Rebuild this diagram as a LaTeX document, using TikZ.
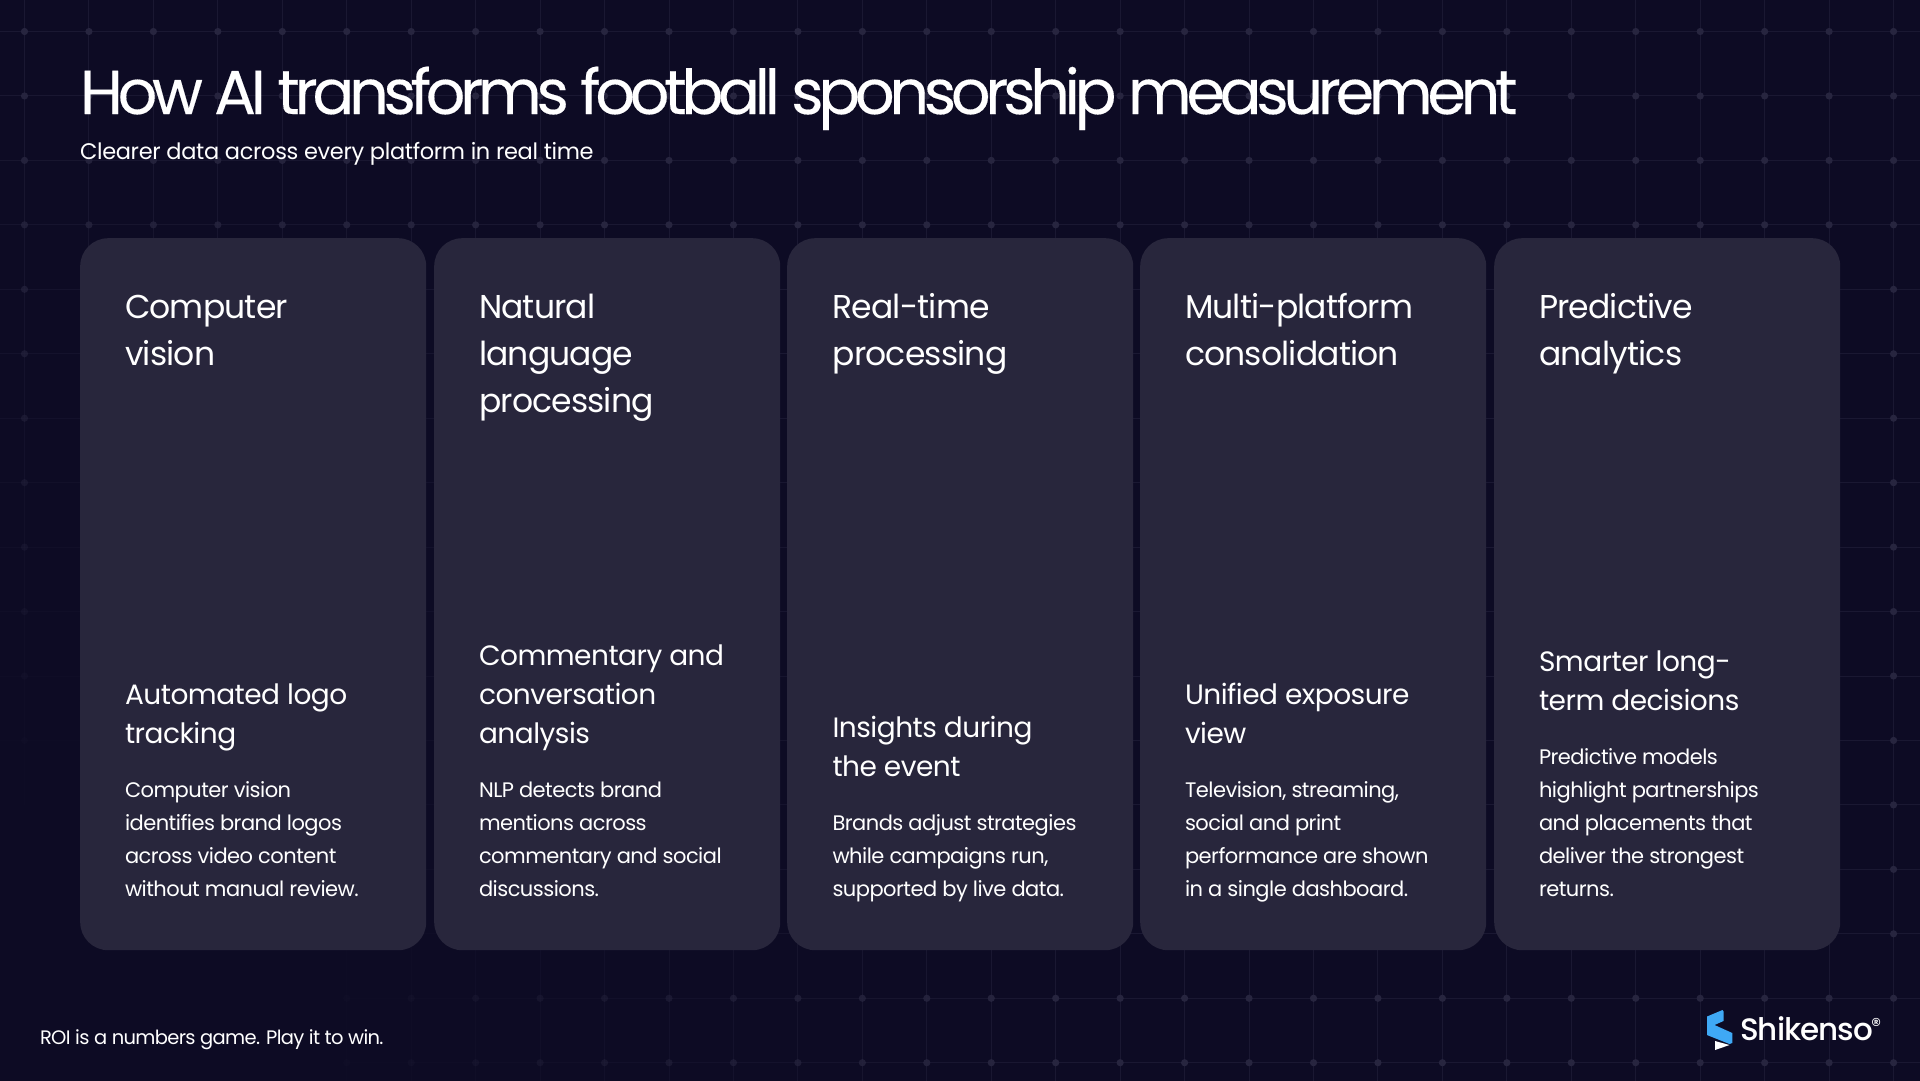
\documentclass[tikz,border=0pt]{standalone}
\usepackage{fontspec}
\setmainfont{Poppins}
\newfontfamily\ftitle[LetterSpace=-8.5,FakeBold=0.25]{Poppins}
\newfontfamily\fbrand[LetterSpace=-3]{Poppins Medium}
\newfontfamily\fhead[LetterSpace=-2.5]{Poppins}
\newfontfamily\fbody[LetterSpace=-2.5]{Poppins}
\newfontfamily\fsubttl[LetterSpace=-1.5]{Poppins}
\newfontfamily\ffoot[LetterSpace=-3.4]{Poppins}
\newfontfamily\fsub[LetterSpace=-1.8]{Poppins}
\definecolor{bgc}{HTML}{0D0B24}
\definecolor{cardc}{HTML}{28263C}
\definecolor{linec}{HTML}{1A1832}
\definecolor{dotc}{HTML}{27253F}
\definecolor{logob}{HTML}{3FA9F5}
\tikzset{
  txt/.style={anchor=base west,inner sep=0pt,outer sep=0pt,text=white},
  cardbox/.style={fill=cardc,rounded corners=28pt,draw=none,minimum width=346pt,minimum height=712pt,inner sep=0pt,anchor=north west},
  headtxt/.style={txt,font=\fhead\fontsize{33}{40}\selectfont},
  subtxt/.style={txt,font=\fsub\fontsize{28}{33}\selectfont},
  bodytxt/.style={txt,font=\fbody\fontsize{21}{26}\selectfont},
}
\begin{document}
\begin{tikzpicture}[x=1pt,y=-1pt]
\useasboundingbox (0,0) rectangle (1920,1080);
\fill[bgc] (-3,-3) rectangle (1923,1083);
% background grid, fading to the bottom-left corner
\foreach \i in {-1,...,30}{
  \foreach \j in {-1,...,17}{
    \pgfmathsetmacro\gx{24.5+64.45*\i}
    \pgfmathsetmacro\gy{31.5+64.45*\j}
    \pgfmathsetmacro\op{min(1,max(0,(veclen(\gx,1080-\gy)-280)/750))}
    \draw[linec,line width=1pt,draw opacity=\op] (\gx,\gy) -- ++(64.45,0);
    \draw[linec,line width=1pt,draw opacity=\op] (\gx,\gy) -- ++(0,64.45);
    \fill[dotc,fill opacity=\op] (\gx,\gy) circle (3.6);
  }
}
% cards
\node[cardbox] (c1) at (80,238) {};
\node[cardbox] (c2) at (434,238) {};
\node[cardbox] (c3) at (787,238) {};
\node[cardbox] (c4) at (1140,238) {};
\node[cardbox] (c5) at (1494,238) {};
% title
\node[txt,font=\ftitle\fontsize{62}{70}\selectfont] (title) at (80,114) {How AI transforms football sponsorship measurement};
\node[txt,font=\fsubttl\fontsize{22.5}{28}\selectfont] (subtitle) at (80,159) {Clearer data across every platform in real time};
% card 1
\node[headtxt] (h11) at (125,318) {Computer};
\node[headtxt] (h12) at (125,365) {vision};
\node[subtxt] (s11) at (125,704) {Automated logo};
\node[subtxt] (s12) at (125,743) {tracking};
\node[bodytxt] (b11) at (125,797) {Computer vision};
\node[bodytxt] (b12) at (125,830) {identifies brand logos};
\node[bodytxt] (b13) at (125,863) {across video content};
\node[bodytxt] (b14) at (125,896) {without manual review.};
% card 2
\node[headtxt] (h21) at (479,318) {Natural};
\node[headtxt] (h22) at (479,365) {language};
\node[headtxt] (h23) at (479,412) {processing};
\node[subtxt] (s21) at (479,665) {Commentary and};
\node[subtxt] (s22) at (479,704) {conversation};
\node[subtxt] (s23) at (479,743) {analysis};
\node[bodytxt] (b21) at (479,797) {NLP detects brand};
\node[bodytxt] (b22) at (479,830) {mentions across};
\node[bodytxt] (b23) at (479,863) {commentary and social};
\node[bodytxt] (b24) at (479,896) {discussions.};
% card 3
\node[headtxt] (h31) at (832.5,318) {Real-time};
\node[headtxt] (h32) at (832.5,365) {processing};
\node[subtxt] (s31) at (832.5,737) {Insights during};
\node[subtxt] (s32) at (832.5,776) {the event};
\node[bodytxt] (b31) at (832.5,830) {Brands adjust strategies};
\node[bodytxt] (b32) at (832.5,863) {while campaigns run,};
\node[bodytxt] (b33) at (832.5,896) {supported by live data.};
% card 4
\node[headtxt] (h41) at (1185,318) {Multi-platform};
\node[headtxt] (h42) at (1185,365) {consolidation};
\node[subtxt] (s41) at (1185,704) {Unified exposure};
\node[subtxt] (s42) at (1185,743) {view};
\node[bodytxt] (b41) at (1185,797) {Television, streaming,};
\node[bodytxt] (b42) at (1185,830) {social and print};
\node[bodytxt] (b43) at (1185,863) {performance are shown};
\node[bodytxt] (b44) at (1185,896) {in a single dashboard.};
% card 5
\node[headtxt] (h51) at (1539,318) {Predictive};
\node[headtxt] (h52) at (1539,365) {analytics};
\node[subtxt] (s51) at (1539,671) {Smarter long-};
\node[subtxt] (s52) at (1539,710) {term decisions};
\node[bodytxt] (b51) at (1539,764) {Predictive models};
\node[bodytxt] (b52) at (1539,797) {highlight partnerships};
\node[bodytxt] (b53) at (1539,830) {and placements that};
\node[bodytxt] (b54) at (1539,863) {deliver the strongest};
\node[bodytxt] (b55) at (1539,896) {returns.};
% footer
\node[txt,font=\ffoot\fontsize{19.5}{24}\selectfont] (foot) at (40,1044) {ROI is a numbers game. Play it to win.};
% logo
\fill[logob] (1707,1016.5) -- (1722.5,1010) -- (1723.5,1011.5) -- (1723.5,1021) -- (1714.5,1025) -- (1732.3,1033) -- (1732.3,1043) -- (1729.5,1044) -- (1707,1035) -- (1707,1027) -- cycle;
\fill[white] (1715,1041) -- (1729.5,1045) -- (1715,1050) -- cycle;
\node[txt,font=\fbrand\fontsize{31}{36}\selectfont] (brand) at (1740,1040) {Shikenso};
\node[txt,font=\fontsize{20}{24}\selectfont] (reg) at (1871,1032) {®};
\end{tikzpicture}
\end{document}
